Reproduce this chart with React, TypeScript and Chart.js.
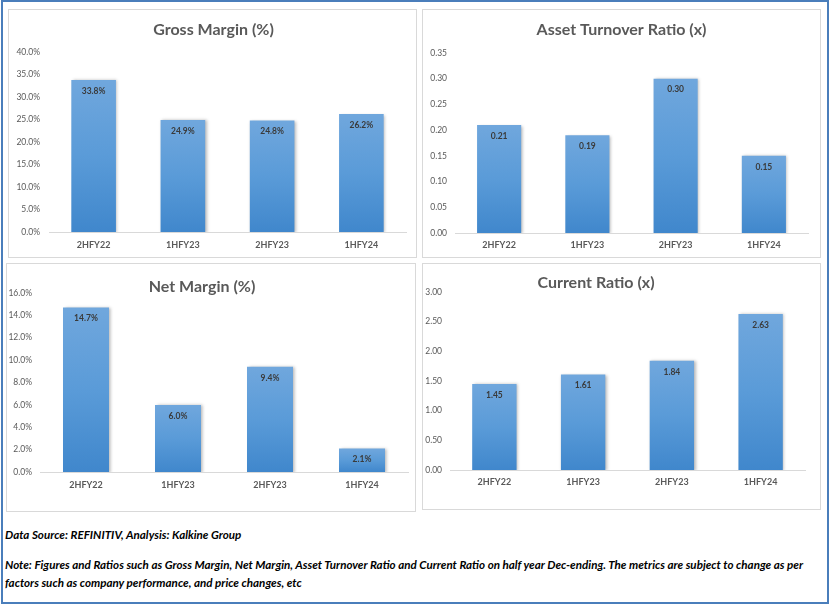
import React, { useEffect, useRef } from "react";
import { Chart, registerables } from "chart.js";

Chart.register(...registerables);

const categories = ["2HFY22", "1HFY23", "2HFY23", "1HFY24"];
const grossMargin = [33.8, 24.9, 24.8, 26.2];
const assetTurnover = [0.21, 0.19, 0.3, 0.15];
const netMargin = [14.7, 6.0, 9.4, 2.1];
const currentRatio = [1.45, 1.61, 1.84, 2.63];
const chartTitles = ["Gross Margin (%)", "Asset Turnover Ratio (x)", "Net Margin (%)", "Current Ratio (x)"];
const axisMax = [40, 0.35, 16, 3];
const axisStep = [5, 0.05, 2, 0.5];
const sourceText = "Data Source: REFINITIV, Analysis: Kalkine Group";
const noteLines = [
  "Note: Figures and Ratios such as Gross Margin, Net Margin, Asset Turnover Ratio and Current Ratio on half year Dec-ending. The metrics are subject to change as per",
  "factors such as company performance, and price changes, etc",
];

const FONT = "Lato, 'Open Sans', sans-serif";

type PanelCfg = {
  title: string;
  values: number[];
  max: number;
  step: number;
  pct: boolean;
  left: number;
  top: number;
  w: number;
  h: number;
  yW: number;
  yPad: number;
  padTop: number;
  padRight: number;
  xH: number;
  xPad: number;
  titleX: number;
  titleY: number;
};

const panels: PanelCfg[] = [
  { title: chartTitles[0], values: grossMargin, max: axisMax[0], step: axisStep[0], pct: true,
    left: 8, top: 9, w: 409, h: 249, yW: 40, yPad: 9, padTop: 42, padRight: 10, xH: 25, xPad: 8, titleX: 204.5, titleY: 20 },
  { title: chartTitles[1], values: assetTurnover, max: axisMax[1], step: axisStep[1], pct: false,
    left: 422, top: 9, w: 399, h: 249, yW: 32, yPad: 8, padTop: 43, padRight: 12, xH: 24, xPad: 7, titleX: 198.5, titleY: 20 },
  { title: chartTitles[2], values: netMargin, max: axisMax[2], step: axisStep[2], pct: true,
    left: 6, top: 263, w: 410, h: 249, yW: 33, yPad: 8, padTop: 29, padRight: 7, xH: 39, xPad: 8, titleX: 195, titleY: 22.7 },
  { title: chartTitles[3], values: currentRatio, max: axisMax[3], step: axisStep[3], pct: false,
    left: 422, top: 263, w: 399, h: 247, yW: 27, yPad: 8, padTop: 28, padRight: 15, xH: 39, xPad: 7, titleX: 173, titleY: 19.3 },
];

const panelTitlePlugin = {
  id: "panelTitle",
  afterDraw(chart: any, _args: any, opts: any) {
    const ctx = chart.ctx;
    ctx.save();
    ctx.font = `bold 16px ${FONT}`;
    ctx.fillStyle = "#595959";
    ctx.textAlign = "center";
    ctx.textBaseline = "middle";
    ctx.fillText(opts.text, opts.x, opts.y);
    ctx.restore();
  },
};

const barShadowPlugin = {
  id: "barShadow",
  beforeDatasetDraw(chart: any) {
    const ctx = chart.ctx;
    ctx.save();
    ctx.shadowColor = "rgba(0,0,0,0.28)";
    ctx.shadowBlur = 3;
    ctx.shadowOffsetX = 1.5;
    ctx.shadowOffsetY = 0.5;
  },
  afterDatasetDraw(chart: any) {
    chart.ctx.restore();
  },
};

const barLabelPlugin = {
  id: "barLabels",
  afterDatasetsDraw(chart: any, _args: any, opts: any) {
    const ctx = chart.ctx;
    const meta = chart.getDatasetMeta(0);
    const data = chart.data.datasets[0].data as number[];
    ctx.save();
    ctx.font = `bold 8.5px ${FONT}`;
    ctx.fillStyle = "#3A3A3A";
    ctx.textAlign = "center";
    ctx.textBaseline = "middle";
    meta.data.forEach((el: any, i: number) => {
      const v = data[i];
      const txt = opts.pct ? `${v.toFixed(1)}%` : v.toFixed(2);
      ctx.fillText(txt, el.x, el.y + 11);
    });
    ctx.restore();
  },
};

function BarPanel({ cfg }: { cfg: PanelCfg }) {
  const ref = useRef<HTMLCanvasElement>(null);
  useEffect(() => {
    const canvas = ref.current!;
    const chart = new Chart(canvas, {
      type: "bar",
      data: {
        labels: categories,
        datasets: [
          {
            data: cfg.values,
            barPercentage: 0.5,
            categoryPercentage: 1,
            borderWidth: 0,
            backgroundColor: (c: any) => {
              const ch = c.chart;
              if (!ch.chartArea || c.raw === undefined) return "#5B9BD5";
              const ys = ch.scales.y;
              const top = ys.getPixelForValue(c.raw);
              const bottom = ys.getPixelForValue(0);
              const g = ch.ctx.createLinearGradient(0, top, 0, bottom);
              g.addColorStop(0, "#70A7DD");
              g.addColorStop(0.5, "#5A9BD8");
              g.addColorStop(1, "#4087CC");
              return g;
            },
          },
        ],
      },
      options: {
        animation: false,
        responsive: false,
        layout: { padding: { top: cfg.padTop, right: cfg.padRight, left: 0, bottom: 0 } },
        plugins: {
          legend: { display: false },
          tooltip: { enabled: false },
          title: { display: false },
          panelTitle: { text: cfg.title, x: cfg.titleX, y: cfg.titleY },
          barLabels: { pct: cfg.pct },
        } as any,
        scales: {
          x: {
            grid: { display: false, drawTicks: false },
            border: { display: true, color: "#D9D9D9", width: 1 },
            ticks: {
              color: "#595959",
              padding: cfg.xPad,
              font: { family: FONT, size: 9, weight: "bold" },
              maxRotation: 0,
              autoSkip: false,
            },
            afterFit: (s: any) => {
              s.height = cfg.xH;
            },
          },
          y: {
            min: 0,
            max: cfg.max,
            grid: { display: false, drawTicks: false },
            border: { display: false },
            ticks: {
              stepSize: cfg.step,
              color: "#595959",
              padding: cfg.yPad,
              font: { family: FONT, size: 8.5 },
              callback: (v: any) => (cfg.pct ? `${Number(v).toFixed(1)}%` : Number(v).toFixed(2)),
            },
            afterFit: (s: any) => {
              s.width = cfg.yW;
            },
          },
        },
      },
      plugins: [barShadowPlugin, barLabelPlugin, panelTitlePlugin],
    });
    return () => chart.destroy();
  }, [cfg]);

  return (
    <div
      style={{
        position: "absolute",
        left: cfg.left,
        top: cfg.top,
        width: cfg.w,
        height: cfg.h,
        border: "1px solid #D9D9D9",
        boxSizing: "border-box",
        background: "#FFFFFF",
        overflow: "hidden",
      }}
    >
      <canvas ref={ref} width={cfg.w - 2} height={cfg.h - 2} style={{ display: "block" }} />
    </div>
  );
}

export default function App() {
  const textStyle: React.CSSProperties = {
    position: "absolute",
    left: 5,
    fontFamily: FONT,
    fontStyle: "italic",
    fontWeight: 700,
    fontSize: 11.6,
    color: "#000000",
    whiteSpace: "nowrap",
    lineHeight: "18px",
  };
  return (
    <div
      style={{
        position: "absolute",
        left: 0,
        top: 0,
        width: 830,
        height: 604,
        background: "#FFFFFF",
        overflow: "hidden",
      }}
    >
      <div
        style={{
          position: "absolute",
          left: 1,
          top: 0,
          width: 828,
          height: 604,
          border: "2px solid #4A7EBB",
          boxSizing: "border-box",
        }}
      />
      {panels.map((p, i) => (
        <BarPanel key={i} cfg={p} />
      ))}
      <div style={{ ...textStyle, top: 526 }}>{sourceText}</div>
      <div style={{ ...textStyle, top: 556 }}>
        {noteLines.map((l, i) => (
          <div key={i}>{l}</div>
        ))}
      </div>
    </div>
  );
}
